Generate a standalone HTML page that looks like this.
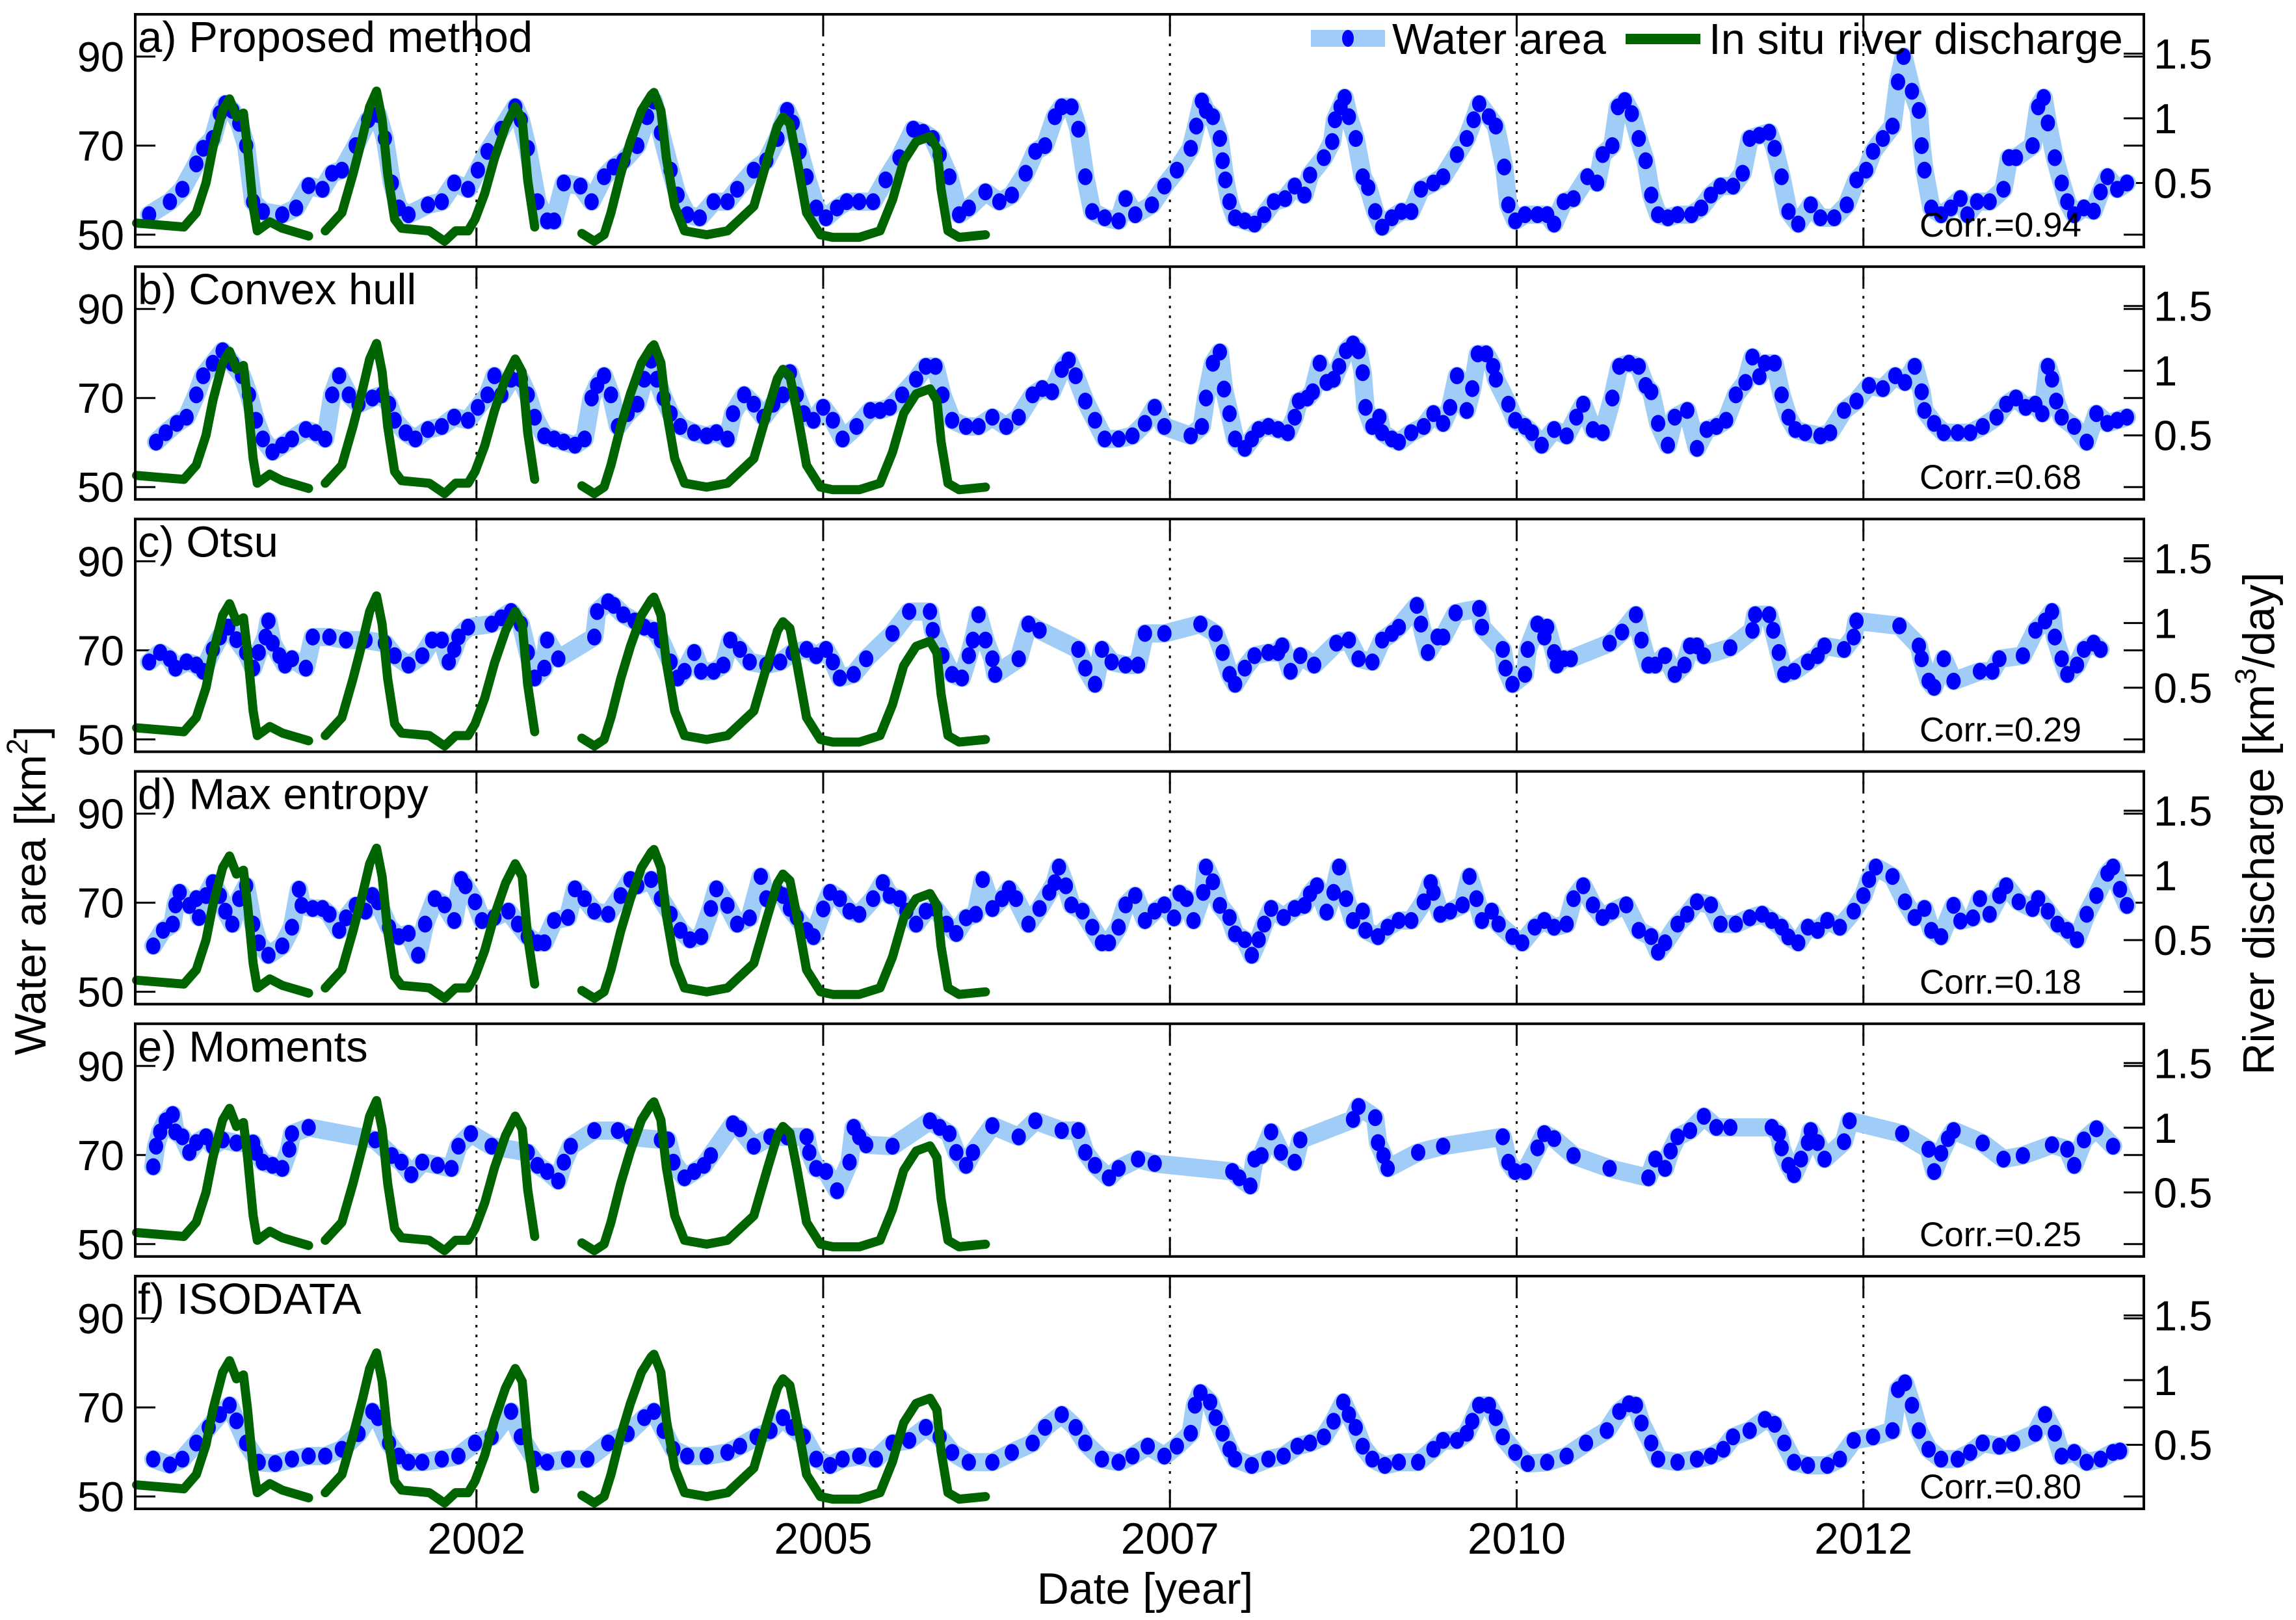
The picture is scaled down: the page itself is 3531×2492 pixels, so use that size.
<!DOCTYPE html>
<html><head><meta charset="utf-8"><title>Water area vs river discharge</title>
<style>
html,body{margin:0;padding:0;background:#fff;}
svg{display:block;font-family:"Liberation Sans",Arial,sans-serif;}
</style></head>
<body>
<svg id="chart" xmlns="http://www.w3.org/2000/svg" width="3531" height="2492" viewBox="0 0 3531 2492">
<rect x="0" y="0" width="3531" height="2492" fill="#fff"/>
<text x="70" y="1370" font-size="68" text-anchor="middle" transform="rotate(-90 70 1370)">Water area [km<tspan font-size="45" dy="-28">2</tspan><tspan dy="28">]</tspan></text>
<text x="3497" y="1267" font-size="68" text-anchor="middle" transform="rotate(-90 3497 1267)">River discharge [km<tspan font-size="45" dy="-28">3</tspan><tspan dy="28">/day]</tspan></text>
<text x="1761" y="2467" font-size="68" text-anchor="middle">Date [year]</text>
</svg>
<script>
const panelTitles = ["a) Proposed method","b) Convex hull","c) Otsu","d) Max entropy","e) Moments","f) ISODATA"];
const corrLabels = ["Corr.=0.94","Corr.=0.68","Corr.=0.29","Corr.=0.18","Corr.=0.25","Corr.=0.80"];
const xTickYears = [2002, 2004.5, 2007, 2009.5, 2012];
const xTickLabels = ["2002","2005","2007","2010","2012"];
const leftTicks = [50, 70, 90];
const rightTicks = [0.5, 1, 1.5];
const rightTickLabels = ["0.5","1","1.5"];

const discharge = [
[1999.55,0.19],[1999.89,0.16],[1999.98,0.27],[2000.05,0.50],[2000.10,0.77],[2000.17,1.06],[2000.22,1.15],[2000.27,1.01],[2000.32,1.04],[2000.35,0.77],[2000.39,0.32],[2000.42,0.13],[2000.51,0.20],[2000.60,0.15],[2000.79,0.09],
null,
[2000.91,0.13],[2001.03,0.27],[2001.11,0.57],[2001.18,0.86],[2001.23,1.09],[2001.28,1.21],[2001.32,0.99],[2001.36,0.57],[2001.41,0.22],[2001.46,0.15],[2001.66,0.13],[2001.77,0.05],[2001.85,0.13],[2001.94,0.13],[2001.99,0.22],[2002.06,0.42],[2002.13,0.69],[2002.21,0.94],[2002.28,1.09],[2002.33,0.99],[2002.37,0.52],[2002.42,0.16],
null,
[2002.76,0.11],[2002.85,0.05],[2002.92,0.10],[2002.97,0.27],[2003.04,0.57],[2003.11,0.82],[2003.19,1.06],[2003.26,1.18],[2003.28,1.20],[2003.33,1.06],[2003.37,0.69],[2003.43,0.32],[2003.50,0.13],[2003.66,0.10],[2003.81,0.13],[2003.90,0.22],[2004.00,0.32],[2004.10,0.69],[2004.17,0.94],[2004.21,1.01],[2004.26,0.96],[2004.31,0.69],[2004.38,0.27],[2004.48,0.10],[2004.57,0.08],[2004.76,0.08],[2004.91,0.13],[2005.00,0.37],[2005.08,0.67],[2005.17,0.82],[2005.27,0.86],[2005.32,0.77],[2005.35,0.45],[2005.40,0.13],[2005.48,0.08],[2005.67,0.10]
];

const areaA = [
[1999.64,54.5],[1999.79,57.4],[1999.88,60.2],[1999.98,65.9],[2000.03,69.4],[2000.10,71.6],[2000.15,77.2],[2000.19,79.4],[2000.24,77.9],[2000.29,75],[2000.34,70],[2000.39,57.4],[2000.46,55.2],[2000.60,54.5],[2000.70,56],[2000.79,61],[2000.89,60.2],[2000.96,63.8],[2001.03,64.5],[2001.13,70],[2001.22,75.8],[2001.29,77],[2001.34,71.6],[2001.39,61.6],[2001.44,56],[2001.51,54.5],[2001.65,56.7],[2001.75,57.4],[2001.84,61.6],[2001.94,60.2],[2002.01,64.5],[2002.08,68.7],[2002.18,73.7],[2002.28,78.7],[2002.32,75.8],[2002.37,69.4],[2002.44,57.4],[2002.51,53.1],[2002.56,53.1],[2002.63,61.6],[2002.75,60.9],[2002.83,57.4],[2002.92,63],[2002.99,65.2],[2003.06,66.6],[2003.16,70],[2003.23,76.5],[2003.28,80],[2003.33,72.9],[2003.40,64.5],[2003.45,58.9],[2003.52,54.5],[2003.61,53.8],[2003.71,57.4],[2003.81,57.4],[2003.88,60.2],[2004.00,64.5],[2004.09,66.6],[2004.17,71.6],[2004.24,77.9],[2004.28,75.1],[2004.33,68.7],[2004.38,63],[2004.45,56],[2004.52,53.8],[2004.60,56],[2004.67,57.4],[2004.76,57.4],[2004.86,57.4],[2004.95,62.3],[2005.05,67.3],[2005.15,73.7],[2005.22,73],[2005.29,71.6],[2005.34,68],[2005.41,63],[2005.48,54.5],[2005.55,56],[2005.67,59.6],[2005.77,57.4],[2005.86,58.9],[2005.96,63.8],[2006.03,68.7],[2006.10,70],[2006.17,76.5],[2006.22,78.7],[2006.29,78.7],[2006.34,73.7],[2006.39,63],[2006.44,55.2],[2006.53,53.8],[2006.63,53.1],[2006.68,58.1],[2006.75,54.5],[2006.87,56.7],[2006.96,60.9],
[2007.05,64.5],[2007.15,69.4],[2007.19,74.4],[2007.23,80],[2007.26,77.9],[2007.31,76.5],[2007.36,71.6],[2007.38,66.6],[2007.40,62.3],[2007.43,57.4],[2007.47,53.8],[2007.54,53.1],[2007.61,52.4],[2007.68,54.5],[2007.75,57.4],[2007.83,58.1],[2007.90,60.9],[2007.97,58.9],[2008.01,63.4],[2008.11,67.3],[2008.17,70.9],[2008.19,75.8],[2008.23,78.7],[2008.26,80.8],[2008.29,76.5],[2008.34,71.6],[2008.39,63],[2008.43,60.6],[2008.48,55.2],[2008.53,51.7],[2008.60,53.8],[2008.67,55.2],[2008.74,55.2],[2008.81,60.2],[2008.90,61.6],[2008.97,63],[2009.07,68],[2009.14,71.6],[2009.19,75.8],[2009.23,79.4],[2009.30,76.5],[2009.35,74.4],[2009.41,65.2],[2009.44,56.7],[2009.49,53.1],[2009.56,54.5],[2009.65,54.5],[2009.72,54.5],[2009.77,52.4],[2009.84,57.4],[2009.91,58.1],[2010.01,63],[2010.08,61.6],[2010.12,68],[2010.19,70],[2010.23,78.7],[2010.28,80.1],[2010.33,77.2],[2010.38,71.6],[2010.43,66.6],[2010.47,58.9],[2010.52,54.5],[2010.59,53.8],[2010.66,54.5],[2010.76,54.5],[2010.83,56],[2010.90,58.9],[2010.97,60.9],[2011.06,60.9],[2011.13,63.8],[2011.18,71.6],[2011.25,72.3],[2011.32,73],[2011.36,69.4],[2011.41,63],[2011.46,55.2],[2011.53,52.4],[2011.62,56.7],[2011.69,53.8],[2011.79,53.8],[2011.88,56.7],[2011.95,62.3],[2012.02,64.5],[2012.07,68.7],[2012.14,71.6],[2012.21,74.4],[2012.25,84.3],[2012.29,90],[2012.35,82.2],[2012.40,77.9],[2012.42,70],[2012.44,64.5],[2012.49,56],[2012.56,54.5],[2012.63,56],[2012.70,58.1],[2012.75,54.5],[2012.82,57.4],[2012.91,57.4],[2013.01,60.2],[2013.05,67.3],[2013.10,67.3],[2013.22,70],[2013.26,78.7],[2013.30,80.8],[2013.33,75.1],[2013.38,67.3],[2013.43,61.6],[2013.47,57.4],[2013.52,54.5],[2013.59,56],[2013.66,55.3],[2013.71,59.6],[2013.76,63],[2013.83,60.2],[2013.90,61.6]
];

const areaB = [
[1999.69,60.1],[1999.76,62.2],[1999.84,64.3],[1999.91,65.7],[1999.98,70.7],[2000.03,75],[2000.10,77.8],[2000.17,80.6],[2000.24,77.8],[2000.31,75],[2000.36,70.7],[2000.41,65],[2000.46,60.8],[2000.53,57.9],[2000.60,59.4],[2000.67,60.8],[2000.77,62.9],[2000.84,62.2],[2000.91,60.8],[2000.96,70.7],[2001.01,75],[2001.08,70.7],[2001.15,68.6],[2001.25,70],[2001.32,70.7],[2001.37,68.6],[2001.41,65],[2001.49,62.2],[2001.56,60.8],[2001.65,62.9],[2001.75,63.6],[2001.84,65.7],[2001.94,65],[2002.01,67.9],[2002.08,70.7],[2002.13,75],[2002.18,70.7],[2002.25,74.2],[2002.32,74.2],[2002.37,70.7],[2002.42,65.7],[2002.49,61.5],[2002.56,60.8],[2002.63,60.1],[2002.71,59.4],[2002.78,60.8],[2002.83,70],[2002.87,72.8],[2002.92,75],[2002.97,70.7],[2003.02,63.6],[2003.09,66.5],[2003.16,68.6],[2003.21,74.2],[2003.26,78.5],[2003.30,74.2],[2003.35,70],[2003.40,66.5],[2003.47,63.6],[2003.57,62.2],[2003.66,61.5],[2003.73,62.2],[2003.81,60.8],[2003.85,66.5],[2003.93,70.7],[2004.00,68.6],[2004.07,65.7],[2004.14,68.6],[2004.21,70.7],[2004.26,75.7],[2004.31,70.7],[2004.36,66.5],[2004.43,65],[2004.50,67.9],[2004.57,65],[2004.64,60.8],[2004.74,63.6],[2004.84,67.2],[2004.91,67.2],[2004.98,67.9],[2005.07,70.7],[2005.17,74.2],[2005.24,77.1],[2005.31,77.1],[2005.36,70.7],[2005.43,65],[2005.53,63.6],[2005.62,63.6],[2005.72,65.7],[2005.82,63.6],[2005.91,65.7],[2006.01,70.7],[2006.08,72.1],[2006.15,71.4],[2006.22,76.4],[2006.27,78.5],[2006.32,75],[2006.39,69.3],[2006.46,65],[2006.53,60.8],[2006.63,60.8],[2006.73,61.5],[2006.82,64.3],[2006.89,67.9],[2006.96,63.6],
[2007.15,61.5],[2007.23,63.6],[2007.26,70],[2007.31,77.8],[2007.36,80.3],[2007.39,72],[2007.43,66.5],[2007.47,60.8],[2007.54,58.7],[2007.59,60.8],[2007.64,62.9],[2007.71,63.6],[2007.78,62.9],[2007.85,62.2],[2007.90,65.7],[2007.93,69.3],[2007.99,70],[2008.03,71.4],[2008.08,77.8],[2008.13,73.5],[2008.18,74.2],[2008.22,77.1],[2008.27,80.6],[2008.32,82.1],[2008.36,80.6],[2008.39,75.7],[2008.41,67.9],[2008.46,63.6],[2008.51,65.7],[2008.53,62.2],[2008.60,60.8],[2008.65,60.1],[2008.74,62.2],[2008.83,63.6],[2008.90,66.5],[2008.97,64.3],[2009.02,67.9],[2009.07,75],[2009.14,67.2],[2009.18,72.1],[2009.22,79.9],[2009.28,79.9],[2009.33,77.1],[2009.35,74.2],[2009.44,68.6],[2009.49,65],[2009.56,63.6],[2009.61,62.2],[2009.68,59.4],[2009.77,62.9],[2009.86,61.5],[2009.93,65.7],[2009.98,68.6],[2010.05,62.9],[2010.12,62.2],[2010.19,70],[2010.24,77.1],[2010.31,77.8],[2010.38,77.1],[2010.43,72.8],[2010.47,71.4],[2010.52,64.3],[2010.59,59.4],[2010.64,65.7],[2010.73,67.2],[2010.80,58.7],[2010.87,62.9],[2010.94,63.6],[2011.01,65],[2011.08,70.7],[2011.15,73.5],[2011.20,79.2],[2011.25,74.8],[2011.29,77.8],[2011.36,77.8],[2011.41,70.7],[2011.46,65.7],[2011.51,62.9],[2011.58,62.2],[2011.69,61.5],[2011.76,62.2],[2011.86,67.2],[2011.95,69.3],[2012.04,72.8],[2012.14,72.1],[2012.23,75],[2012.30,73.5],[2012.37,77.1],[2012.42,71.4],[2012.44,67.2],[2012.51,64.3],[2012.58,62.2],[2012.68,62.2],[2012.77,62.2],[2012.86,63.6],[2012.96,65.7],[2013.03,68.6],[2013.10,70],[2013.17,67.9],[2013.24,68.6],[2013.29,66.5],[2013.33,77.1],[2013.36,74.2],[2013.39,69.3],[2013.43,65.7],[2013.52,63.6],[2013.61,60.1],[2013.68,66.5],[2013.76,64.3],[2013.83,65],[2013.90,65.7]
];

const areaC = [
[1999.64,67.4],[1999.72,69.5],[1999.79,68.1],[1999.83,66],[1999.91,67.4],[1999.98,66.7],[2000.03,65.3],[2000.10,70.2],[2000.15,73],[2000.21,75.2],[2000.27,72.4],[2000.34,69.5],[2000.39,66],[2000.43,69.5],[2000.48,73],[2000.50,76.6],[2000.53,71.6],[2000.58,68.8],[2000.62,66.7],[2000.67,68.1],[2000.77,66],[2000.82,73],[2000.94,73],[2001.06,72.3],[2001.20,72.3],[2001.34,71.6],[2001.41,68.8],[2001.51,66.7],[2001.61,68.8],[2001.68,72.3],[2001.75,72.3],[2001.80,67.4],[2001.84,70.2],[2001.87,73],[2001.94,75.2],[2002.11,75.9],[2002.18,77.3],[2002.25,78.7],[2002.32,75.9],[2002.37,69.5],[2002.42,63.8],[2002.49,66],[2002.51,72.3],[2002.59,68.1],[2002.85,73],[2002.87,78.7],[2002.95,80.9],[2002.99,80.1],[2003.06,78],[2003.14,76.6],[2003.21,75.2],[2003.28,74.5],[2003.33,72.3],[2003.40,67.4],[2003.45,63.8],[2003.50,65.3],[2003.57,69.5],[2003.62,65.3],[2003.71,65.3],[2003.78,66.7],[2003.83,72.3],[2003.90,70.2],[2003.97,67.4],[2004.09,66.7],[2004.19,67.4],[2004.28,69.5],[2004.38,70.2],[2004.45,68.8],[2004.52,70.2],[2004.57,67.4],[2004.62,63.8],[2004.72,64.6],[2004.81,68.1],[2005.00,73.8],[2005.12,78.7],[2005.27,78.7],[2005.29,74.5],[2005.36,68.8],[2005.43,64.6],[2005.50,63.8],[2005.55,68.8],[2005.58,72.3],[2005.62,78],[2005.67,72.3],[2005.72,68.1],[2005.74,64.6],[2005.91,68.1],[2005.98,75.9],[2006.06,74.5],[2006.34,70.2],[2006.39,66],[2006.46,62.4],[2006.51,70.2],[2006.58,67.4],[2006.68,66.7],[2006.77,66.7],[2006.82,73.8],[2006.96,73.8],
[2007.22,75.9],[2007.33,73.8],[2007.38,69.5],[2007.43,64.6],[2007.47,62.4],[2007.54,66],[2007.61,68.8],[2007.71,69.5],[2007.78,69.5],[2007.81,71],[2007.87,65.3],[2007.94,68.8],[2008.04,66.7],[2008.20,71.6],[2008.29,72.3],[2008.36,68.1],[2008.46,67.4],[2008.53,72.3],[2008.60,73.8],[2008.65,75.2],[2008.78,80.1],[2008.81,75.9],[2008.86,69.5],[2008.93,73],[2008.97,73],[2009.06,78.4],[2009.23,79.4],[2009.25,75.2],[2009.40,70.2],[2009.42,66],[2009.47,62.4],[2009.56,64.6],[2009.58,70.2],[2009.65,75.9],[2009.70,73],[2009.72,75.2],[2009.77,69.5],[2009.79,66.7],[2009.84,68.1],[2009.89,68.1],[2010.17,71.6],[2010.26,74.1],[2010.36,78],[2010.40,72.3],[2010.45,66.7],[2010.50,66.7],[2010.57,68.8],[2010.64,64.6],[2010.71,66.7],[2010.75,71],[2010.80,71],[2010.85,68.8],[2011.04,70.6],[2011.20,74.5],[2011.22,78],[2011.32,78],[2011.35,74.5],[2011.39,69.5],[2011.43,64.6],[2011.50,65.3],[2011.60,67.4],[2011.67,68.8],[2011.72,71],[2011.86,70.2],[2011.93,73],[2011.95,76.6],[2012.26,75.5],[2012.40,71],[2012.42,68.1],[2012.47,63.1],[2012.51,61.7],[2012.58,68.1],[2012.65,63.1],[2012.84,65.3],[2012.93,65.3],[2012.98,68.1],[2013.15,68.8],[2013.24,74.5],[2013.31,76.6],[2013.36,78.7],[2013.38,73],[2013.43,68.1],[2013.47,64.6],[2013.54,66.7],[2013.59,70.2],[2013.66,71.6],[2013.71,70.2]
];

const areaD = [
[1999.67,60.3],[1999.74,63.8],[1999.81,65.2],[1999.83,69.5],[1999.86,72.3],[1999.93,69.4],[1999.98,70.9],[2000.00,66.7],[2000.05,71.6],[2000.10,74.5],[2000.15,71.6],[2000.19,68.1],[2000.24,65.2],[2000.29,70.9],[2000.34,73.8],[2000.39,65.2],[2000.43,61],[2000.50,58.2],[2000.60,60.3],[2000.67,64.5],[2000.72,73],[2000.74,69.4],[2000.82,68.7],[2000.89,68.7],[2000.94,67.4],[2001.01,63.8],[2001.06,66.6],[2001.13,69.4],[2001.20,68.1],[2001.25,71.6],[2001.29,70.2],[2001.37,64.5],[2001.44,62.4],[2001.51,63.1],[2001.58,58.2],[2001.63,65.2],[2001.70,70.9],[2001.77,69.5],[2001.84,66],[2001.89,75.2],[2001.92,73.8],[2001.99,70.2],[2002.04,66],[2002.13,66.7],[2002.23,68.1],[2002.30,65.2],[2002.37,62.4],[2002.44,61],[2002.49,61],[2002.56,66],[2002.66,66.7],[2002.71,73.1],[2002.78,70.9],[2002.85,68.1],[2002.95,67.4],[2003.04,71.6],[2003.11,75.2],[2003.16,73.8],[2003.26,75.2],[2003.33,70.9],[2003.40,67.4],[2003.47,63.8],[2003.54,61.7],[2003.62,62.4],[2003.69,68.7],[2003.73,73.1],[2003.81,69.4],[2003.88,65.2],[2003.97,66.6],[2004.05,75.9],[2004.09,70.9],[2004.17,72.3],[2004.21,71.6],[2004.26,68.7],[2004.31,66.7],[2004.38,63.8],[2004.43,62.4],[2004.50,68.6],[2004.55,72.3],[2004.62,70.9],[2004.69,68.1],[2004.76,67.4],[2004.86,70.9],[2004.93,74.5],[2004.98,71.6],[2005.05,70.9],[2005.10,68.1],[2005.17,65.2],[2005.24,68.1],[2005.31,68.7],[2005.39,65.2],[2005.46,63.1],[2005.53,66.6],[2005.60,67.4],[2005.65,75.2],[2005.72,68.7],[2005.79,70.9],[2005.84,73.1],[2005.89,70.9],[2005.98,65.2],[2006.06,68.7],[2006.13,72.3],[2006.17,74.5],[2006.20,78],[2006.25,73.8],[2006.29,69.5],[2006.37,68.1],[2006.44,64.5],[2006.51,61],[2006.56,61],[2006.63,64.5],[2006.68,69.5],[2006.75,71.6],[2006.82,66],[2006.89,68.1],[2006.96,69.5],
[2007.03,66.6],[2007.07,72.1],[2007.12,70.9],[2007.17,66],[2007.24,72.3],[2007.26,78],[2007.31,74.7],[2007.36,69.4],[2007.43,66.7],[2007.47,63],[2007.54,61.7],[2007.59,58.2],[2007.64,61.7],[2007.68,65.2],[2007.73,68.7],[2007.82,66.7],[2007.90,68.7],[2007.97,69.4],[2008.01,72],[2008.06,73.8],[2008.13,67.9],[2008.18,72.3],[2008.22,78],[2008.27,70.9],[2008.32,66],[2008.39,68.1],[2008.41,63.8],[2008.50,62.4],[2008.57,64.5],[2008.65,66],[2008.74,66],[2008.83,70.2],[2008.88,74.5],[2008.90,72.3],[2008.95,67.4],[2009.02,68.1],[2009.11,69.5],[2009.16,75.9],[2009.21,70.9],[2009.25,66],[2009.32,68.1],[2009.37,65.2],[2009.47,62.4],[2009.54,61],[2009.63,64.5],[2009.70,66],[2009.77,64.5],[2009.86,65.2],[2009.91,70.9],[2009.98,73.8],[2010.05,69.5],[2010.12,66.7],[2010.19,68.1],[2010.29,69.5],[2010.38,63.8],[2010.47,62.4],[2010.52,58.9],[2010.57,61],[2010.66,65.2],[2010.73,67.4],[2010.80,70.2],[2010.90,69.5],[2010.97,65.2],[2011.08,65.2],[2011.18,66.6],[2011.27,67.4],[2011.34,66],[2011.41,64.5],[2011.46,62.3],[2011.53,61],[2011.60,64.5],[2011.67,63.8],[2011.74,66],[2011.83,64.5],[2011.93,68.1],[2012.00,71.6],[2012.04,75.2],[2012.09,78],[2012.21,75.9],[2012.30,70.2],[2012.37,66.7],[2012.44,68.7],[2012.49,63.8],[2012.56,62.4],[2012.65,69.4],[2012.70,65.9],[2012.79,66.6],[2012.84,70.9],[2012.91,67.4],[2012.98,71.6],[2013.03,73.8],[2013.12,70.2],[2013.22,68.7],[2013.26,70.9],[2013.33,68.1],[2013.40,65.2],[2013.47,63.8],[2013.54,61.7],[2013.61,67.4],[2013.68,71.6],[2013.76,76.6],[2013.80,78],[2013.85,73],[2013.90,69.4]
];

const areaE = [
[1999.67,67.4],[1999.69,72],[1999.72,75.2],[1999.76,77.7],[1999.81,79.1],[1999.83,75.2],[1999.88,74.1],[1999.93,70.6],[1999.98,72.8],[2000.05,74.1],[2000.10,72],[2000.17,73.4],[2000.27,72.7],[2000.39,72.7],[2000.41,70.6],[2000.46,68.4],[2000.53,67.7],[2000.60,67],[2000.65,71.3],[2000.67,74.8],[2000.79,76.2],[2001.27,73.4],[2001.39,69.9],[2001.46,68.4],[2001.53,65.6],[2001.61,68.4],[2001.72,67.7],[2001.82,67],[2001.87,72],[2001.96,74.8],[2002.11,72],[2002.37,70.6],[2002.44,67.7],[2002.51,66.3],[2002.59,64.2],[2002.63,68.4],[2002.68,72],[2002.85,75.5],[2003.02,75.5],[2003.11,74.1],[2003.33,73.4],[2003.38,73.4],[2003.42,68.4],[2003.50,64.9],[2003.57,66.3],[2003.64,67.7],[2003.69,69.9],[2003.85,77],[2003.90,75.9],[2004.00,72],[2004.12,74.1],[2004.24,74.1],[2004.38,74.1],[2004.40,70.6],[2004.45,67],[2004.52,66.3],[2004.60,62],[2004.69,68.4],[2004.72,76.2],[2004.76,74.1],[2004.81,72.3],[2005.00,72],[2005.27,77.7],[2005.34,76.2],[2005.41,74.8],[2005.46,70.6],[2005.53,67.7],[2005.58,70.6],[2005.72,76.6],[2005.91,74.1],[2006.03,77.7],[2006.22,75.5],[2006.34,75.5],[2006.39,70.6],[2006.46,67.7],[2006.56,64.9],[2006.63,67],[2006.77,69.1],[2006.89,68.1],
[2007.45,66.3],[2007.50,64.9],[2007.58,63.1],[2007.61,69.1],[2007.66,69.9],[2007.73,75.2],[2007.80,70.6],[2007.90,68.4],[2007.94,73.4],[2008.32,78],[2008.36,80.9],[2008.48,78.4],[2008.50,72.8],[2008.54,69.9],[2008.57,67],[2008.79,70.6],[2008.97,72],[2009.40,74.1],[2009.44,68.4],[2009.49,66.3],[2009.56,66.3],[2009.65,71.6],[2009.70,74.8],[2009.77,73.7],[2009.91,69.9],[2010.17,67],[2010.45,64.9],[2010.50,69.1],[2010.57,67],[2010.61,70.9],[2010.66,74.1],[2010.75,75.5],[2010.85,78.7],[2010.94,76.2],[2011.04,76.2],[2011.34,76.2],[2011.39,74.8],[2011.41,71.6],[2011.46,67.7],[2011.50,65.6],[2011.55,69.1],[2011.60,72.8],[2011.62,75.5],[2011.67,72.8],[2011.72,69.1],[2011.86,73],[2011.90,77.7],[2012.28,74.8],[2012.47,71.3],[2012.51,66.3],[2012.56,70.4],[2012.61,73.7],[2012.65,75.5],[2012.86,72.7],[2013.01,69.1],[2013.15,69.9],[2013.36,72.3],[2013.47,71.3],[2013.52,67.7],[2013.59,73.4],[2013.68,75.9],[2013.80,72]
];

const areaF = [
[1999.67,58.4],[1999.79,57.1],[1999.88,58.4],[1999.98,62],[2000.07,65.5],[2000.15,68.4],[2000.22,70.5],[2000.27,67],[2000.34,62],[2000.43,57.7],[2000.55,57.4],[2000.67,58.4],[2000.79,59.1],[2000.91,59.1],[2001.03,60.6],[2001.15,64.1],[2001.25,69.1],[2001.29,67.7],[2001.37,62],[2001.44,59.1],[2001.51,57.7],[2001.61,57.7],[2001.75,58.4],[2001.87,59.1],[2001.99,62],[2002.11,63.4],[2002.25,69.1],[2002.32,63.4],[2002.42,58.4],[2002.51,57.7],[2002.66,58.4],[2002.80,58.4],[2002.95,62],[2003.09,64.1],[2003.21,67.7],[2003.28,69.1],[2003.35,64.8],[2003.42,60.6],[2003.52,59.1],[2003.66,59.1],[2003.81,59.9],[2003.90,61.3],[2004.02,63.4],[2004.12,64.8],[2004.21,67.7],[2004.28,65.5],[2004.36,63.4],[2004.45,58.4],[2004.55,57],[2004.64,58.4],[2004.76,59.1],[2004.88,58.4],[2005.00,62],[2005.12,62.6],[2005.24,65.5],[2005.34,63.4],[2005.43,59.9],[2005.55,57.7],[2005.72,57.7],[2005.86,59.9],[2006.01,62],[2006.10,65.5],[2006.22,68.4],[2006.32,65.5],[2006.39,62],[2006.51,58.4],[2006.63,57.7],[2006.73,59.1],[2006.84,61.3],[2006.96,59.1],
[2007.05,61.3],[2007.15,64.2],[2007.18,70.5],[2007.22,73.3],[2007.29,71.2],[2007.33,67.7],[2007.38,64.2],[2007.43,60.6],[2007.47,58.4],[2007.59,57],[2007.71,58.4],[2007.82,59.1],[2007.92,61.3],[2008.01,62],[2008.11,63.4],[2008.18,66.9],[2008.25,71.2],[2008.29,68.4],[2008.34,65.5],[2008.39,61.3],[2008.46,58.4],[2008.55,57],[2008.65,57.7],[2008.79,57.7],[2008.90,60.6],[2008.97,62.6],[2009.07,62.6],[2009.14,64.2],[2009.18,66.9],[2009.23,70.5],[2009.30,70.5],[2009.35,67.7],[2009.40,63.4],[2009.49,59.9],[2009.58,57.4],[2009.72,57.7],[2009.86,59.1],[2010.00,62],[2010.15,64.8],[2010.24,69.1],[2010.31,70.8],[2010.36,70.5],[2010.40,66.5],[2010.47,62],[2010.52,58.4],[2010.66,57.7],[2010.80,58.4],[2010.90,59.1],[2010.99,60.6],[2011.06,63.4],[2011.18,64.8],[2011.29,67.3],[2011.36,66.2],[2011.43,62],[2011.50,57.7],[2011.60,57],[2011.74,57],[2011.83,58.4],[2011.93,62.6],[2012.07,63.4],[2012.21,64.8],[2012.25,74],[2012.30,75.5],[2012.35,70.5],[2012.40,64.8],[2012.47,60.6],[2012.56,58.4],[2012.68,58.4],[2012.77,59.9],[2012.86,62],[2012.98,61.3],[2013.08,62],[2013.24,64.2],[2013.31,68.4],[2013.38,64.2],[2013.43,59.1],[2013.52,59.9],[2013.61,57.7],[2013.71,58.4],[2013.80,59.9],[2013.85,60.2]
];

const panelAreas = [areaA, areaB, areaC, areaD, areaE, areaF];

// ---- layout ----
const NS = "http://www.w3.org/2000/svg";
const svg = document.getElementById("chart");
const X0 = 208, X1 = 3297, YEAR0 = 1999.54, PX_PER_YEAR = 213.3;
const PANEL_TOP0 = 22, PANEL_STEP = 388.2, PANEL_H = 358;
function xScale(yr){ return X0 + (yr - YEAR0) * PX_PER_YEAR; }
function yArea(top, v){ return top + 339 - (v - 50) * 6.85; }
function yQ(top, q){ return top + 359 - q * 199; }
function mk(tag, attrs, parent){
  const el = document.createElementNS(NS, tag);
  for (const k in attrs) el.setAttribute(k, attrs[k]);
  (parent || svg).appendChild(el);
  return el;
}
function pathFrom(points, top, yfn){
  let d = "", pen = false;
  for (const p of points){
    if (p === null){ pen = false; continue; }
    d += (pen ? "L" : "M") + xScale(p[0]).toFixed(1) + " " + yfn(top, p[1]).toFixed(1) + " ";
    pen = true;
  }
  return d;
}

for (let i = 0; i < 6; i++){
  const top = PANEL_TOP0 + i * PANEL_STEP;
  const bottom = top + PANEL_H;
  const g = mk("g", {});
  
  

  xTickYears.forEach((yr, k) => {
    const x = xScale(yr);
    const gl = mk("line", {x1:x, x2:x, y1:top, y2:bottom, stroke:"#000", "stroke-width":3, "stroke-dasharray":"4 11"}, g);
    
    
    const t1 = mk("line", {x1:x, x2:x, y1:bottom, y2:bottom-30, stroke:"#000", "stroke-width":3}, g);
    
    
    const t2 = mk("line", {x1:x, x2:x, y1:top, y2:top+30, stroke:"#000", "stroke-width":3}, g);
    
    
    if (i === 5){
      const lab = mk("text", {x:x, y:2390, "font-size":68, "text-anchor":"middle"}, svg);
      lab.textContent = xTickLabels[k];
      
      
    }
  });

  leftTicks.forEach(v => {
    const y = yArea(top, v);
    const t = mk("line", {x1:X0, x2:X0+31, y1:y, y2:y, stroke:"#000", "stroke-width":3}, g);
    
    
    const t2 = mk("line", {x1:X1, x2:X1-31, y1:y, y2:y, stroke:"#000", "stroke-width":3}, g);
    
    
    const lab = mk("text", {x:191, y:y+23, "font-size":65, "text-anchor":"end"}, g);
    lab.textContent = String(v);
    
    
  });
  rightTicks.forEach((q, k) => {
    const y = yQ(top, q);
    const t = mk("line", {x1:X1, x2:X1-31, y1:y, y2:y, stroke:"#000", "stroke-width":3}, g);
    
    
    const lab = mk("text", {x:3312, y:y+23, "font-size":65, "text-anchor":"start"}, g);
    lab.textContent = rightTickLabels[k];
    
    
  });

  const pts = panelAreas[i];
  const band = mk("path", {d:pathFrom(pts, top, yArea), fill:"none", stroke:"#9fcdf8", "stroke-width":28, "stroke-linejoin":"round", "stroke-linecap":"round"}, g);
  
  
  pts.forEach(p => {
    const c = mk("ellipse", {cx:xScale(p[0]).toFixed(1), cy:yArea(top, p[1]).toFixed(1), rx:11, ry:13, fill:"#0000ff"}, g);
    
    
  });

  const dl = mk("path", {d:pathFrom(discharge, top, yQ), fill:"none", stroke:"#006400", "stroke-width":14, "stroke-linejoin":"round", "stroke-linecap":"round"}, g);
  
  

  const fr = mk("rect", {x:X0, y:top, width:X1-X0, height:PANEL_H, fill:"none", stroke:"#000", "stroke-width":4}, g);
  
  

  const ti = mk("text", {x:212, y:top+58, "font-size":67}, g);
  ti.textContent = panelTitles[i];
  
  
  const co = mk("text", {x:3201, y:top+342, "font-size":53, "text-anchor":"end"}, g);
  co.textContent = corrLabels[i];
  
  
}

const lg = mk("g", {});


const l1 = mk("line", {x1:2016, x2:2130, y1:59, y2:59, stroke:"#9fcdf8", "stroke-width":26}, lg);


const l1d = mk("ellipse", {cx:2073, cy:59, rx:9, ry:13, fill:"#0000ff"}, lg);


const l1t = mk("text", {x:2141, y:83, "font-size":67}, lg);
l1t.textContent = "Water area";


const l2 = mk("line", {x1:2500, x2:2615, y1:60, y2:60, stroke:"#006400", "stroke-width":16}, lg);


const l2t = mk("text", {x:2628, y:83, "font-size":67}, lg);
l2t.textContent = "In situ river discharge";


</script>
</body></html>
